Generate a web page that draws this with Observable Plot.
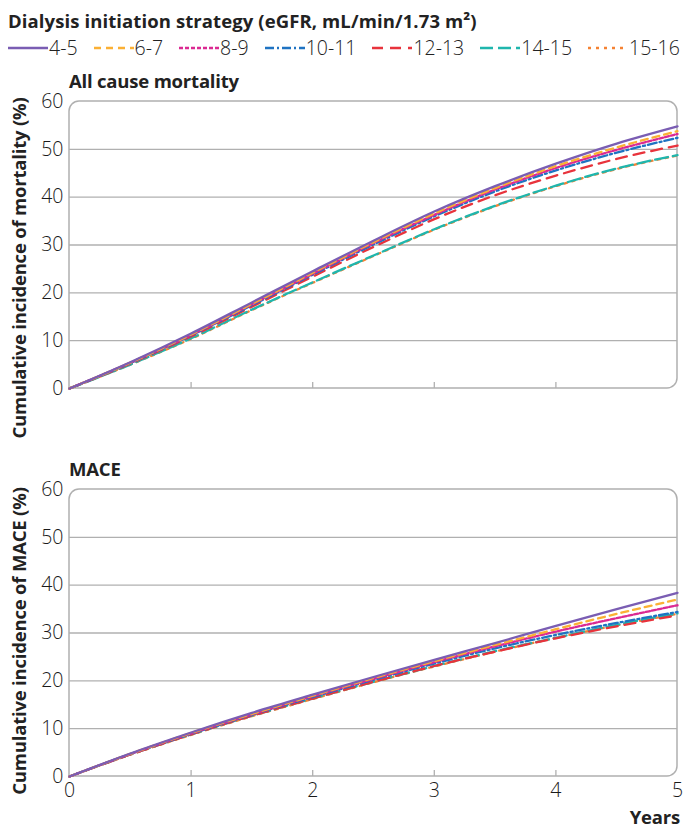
<!DOCTYPE html>
<html>
<head>
<meta charset="utf-8">
<script src="https://cdn.jsdelivr.net/npm/d3@7"></script>
<script src="https://cdn.jsdelivr.net/npm/@observablehq/plot@0.6"></script>
<style>
  html, body { margin: 0; padding: 0; background: #fff; }
  body { width: 685px; height: 831px; position: relative; overflow: hidden; font-family: "Open Sans", Lato, sans-serif; color: #222; }
  .abs { position: absolute; white-space: nowrap; line-height: 1; }
  .title { left: 8px; top: 12px; font-weight: 700; font-size: 18.5px; letter-spacing: 0.1px; }
  .legend { left: 8px; top: 38px; display: flex; align-items: center; font-size: 19.5px; font-weight: 300; }
  .item { display: flex; align-items: center; margin-right: 16px; }
  .item svg { margin-right: 1px; }
  .ptitle { font-weight: 700; font-size: 18.5px; letter-spacing: -0.2px; }
  .ylab { font-weight: 700; font-size: 18.5px; letter-spacing: -0.2px; transform: translate(-50%, -50%) rotate(-90deg); }
  .chart { position: absolute; left: 0; }
</style>
</head>
<body>
<div class="abs title">Dialysis initiation strategy (eGFR, mL/min/1.73 m²)</div>
<div class="abs legend" id="legend"></div>
<div class="abs ptitle" style="left:69px; top:72px;">All cause mortality</div>
<div class="abs ptitle" style="left:69px; top:460px;">MACE</div>
<div class="abs ylab" style="left:19px; top:268px;">Cumulative incidence of mortality (%)</div>
<div class="abs ylab" style="left:19px; top:641px;">Cumulative incidence of MACE (%)</div>
<div class="abs ptitle" style="right:5px; top:808px;">Years</div>
<div class="chart" id="c1" style="top:60px;"></div>
<div class="chart" id="c2" style="top:448px;"></div>
<script>
// ---- data ----
const years = [0, 0.5, 1, 1.5, 2, 2.5, 3, 3.5, 4, 4.5, 5];
const strategies = ["4-5", "6-7", "8-9", "10-11", "12-13", "14-15", "15-16"];
const yTicks = [0, 10, 20, 30, 40, 50, 60];
const xTicks = [0, 1, 2, 3, 4, 5];

// All cause mortality (%)
const mort_4_5   = [0, 5.5, 11.5, 18.0, 24.5, 30.9, 37.0, 42.3, 47.0, 51.2, 54.8];
const mort_6_7   = [0, 5.4, 11.3, 17.7, 24.2, 30.6, 36.6, 41.9, 46.5, 50.4, 53.8];
const mort_8_9   = [0, 5.4, 11.2, 17.6, 24.0, 30.4, 36.3, 41.6, 46.1, 49.9, 53.2];
const mort_10_11 = [0, 5.3, 11.1, 17.4, 23.8, 30.1, 36.0, 41.2, 45.6, 49.3, 52.4];
const mort_12_13 = [0, 5.2, 10.9, 17.1, 23.4, 29.6, 35.4, 40.4, 44.5, 48.0, 50.8];
const mort_14_15 = [0, 5.0, 10.5, 16.5, 22.2, 27.8, 33.3, 38.2, 42.4, 46.0, 48.8];
const mort_15_16 = [0, 5.0, 10.4, 16.4, 22.1, 27.7, 33.2, 38.1, 42.3, 45.9, 48.7];

// MACE (%)
const mace_4_5   = [0, 4.8, 9.2, 13.3, 17.1, 20.8, 24.4, 27.9, 31.5, 35.0, 38.4];
const mace_6_7   = [0, 4.75, 9.1, 13.1, 16.9, 20.6, 24.1, 27.5, 30.8, 34.0, 37.0];
const mace_8_9   = [0, 4.7, 9.0, 13.0, 16.8, 20.4, 23.9, 27.2, 30.3, 33.1, 35.8];
const mace_10_11 = [0, 4.7, 8.9, 12.9, 16.6, 20.2, 23.6, 26.8, 29.6, 32.1, 34.4];
const mace_12_13 = [0, 4.6, 8.8, 12.7, 16.3, 19.8, 23.1, 26.1, 28.9, 31.4, 33.7];
const mace_14_15 = [0, 4.6, 8.8, 12.7, 16.3, 19.8, 23.1, 26.2, 29.0, 31.7, 34.1];
const mace_15_16 = [0, 4.55, 8.7, 12.6, 16.2, 19.7, 23.0, 26.1, 29.0, 31.6, 34.0];

// ---- styles ----
const colors = ["#7a5db3", "#fbb034", "#db2a92", "#1f73c2", "#e8333c", "#1fb6ad", "#f58233"];
const dashes = [null, "7,5", "4,2", "9,3,2,3", "11,7", "13,5", "3,5"];

function toRows(series) {
  const rows = [];
  series.forEach((vals, i) => vals.forEach((v, j) => rows.push({year: years[j], value: v, strategy: strategies[i]})));
  return rows;
}

function frameMark(index, scales, values, dims) {
  const {width, height, marginLeft, marginRight, marginTop, marginBottom} = dims;
  const x0 = marginLeft, x1 = width - marginRight, y0 = marginTop, y1 = height - marginBottom, r = 10;
  const p = document.createElementNS("http://www.w3.org/2000/svg", "path");
  p.setAttribute("d", `M${x0},${y1}V${y0 + r}A${r},${r} 0 0 1 ${x0 + r},${y0}H${x1 - r}A${r},${r} 0 0 1 ${x1},${y0 + r}V${y1 - r}A${r},${r} 0 0 1 ${x1 - r},${y1}Z`);
  p.setAttribute("fill", "none");
  p.setAttribute("stroke", "#b0b0b0");
  p.setAttribute("stroke-width", "1.5");
  return p;
}

function panel(series, {height, marginTop, marginBottom, showX}) {
  const rows = toRows(series);
  const plotH = height - marginTop - marginBottom;
  const order = strategies.map((s, i) => i).reverse();
  const marks = [
    Plot.gridY(yTicks.filter(t => t > 0 && t < 60), {stroke: "#b0b0b0", strokeOpacity: 1, strokeWidth: 1.3}),
    Plot.tickX(xTicks.slice(1, -1), {x: d => d, stroke: "#b0b0b0", strokeWidth: 1.3, insetTop: plotH - 6}),
    frameMark,
    ...order.map(i => Plot.line(rows.filter(d => d.strategy === strategies[i]), {
      x: "year", y: "value", curve: "monotone-x",
      stroke: colors[i], strokeWidth: 2.3, strokeDasharray: dashes[i]
    })),
    Plot.axisY(yTicks, {tickSize: 0, tickPadding: 6, fontSize: 19.5, fontWeight: 300, label: null})
  ];
  if (showX) marks.push(Plot.axisX(xTicks, {tickSize: 0, tickPadding: 7, fontSize: 19.5, fontWeight: 300, tickFormat: "d", label: null}));
  return Plot.plot({
    width: 685, height, marginLeft: 69, marginRight: 8, marginTop, marginBottom,
    style: {fontFamily: "'Open Sans', Lato, sans-serif", color: "#1a1a1a", background: "transparent", overflow: "visible"},
    x: {domain: [0, 5], axis: showX ? undefined : null},
    y: {domain: [0, 60]},
    marks
  });
}

document.getElementById("c1").append(panel(
  [mort_4_5, mort_6_7, mort_8_9, mort_10_11, mort_12_13, mort_14_15, mort_15_16],
  {height: 390, marginTop: 41, marginBottom: 62, showX: false}
));
document.getElementById("c2").append(panel(
  [mace_4_5, mace_6_7, mace_8_9, mace_10_11, mace_12_13, mace_14_15, mace_15_16],
  {height: 383, marginTop: 41, marginBottom: 55, showX: true}
));

// legend
const leg = document.getElementById("legend");
strategies.forEach((s, i) => {
  const item = document.createElement("div");
  item.className = "item";
  item.innerHTML = `<svg width="40" height="10"><line x1="0" x2="40" y1="5" y2="5" stroke="${colors[i]}" stroke-width="2.5" ${dashes[i] ? `stroke-dasharray="${dashes[i]}"` : ""}/></svg><span>${s}</span>`;
  leg.append(item);
});
</script>
</body>
</html>
